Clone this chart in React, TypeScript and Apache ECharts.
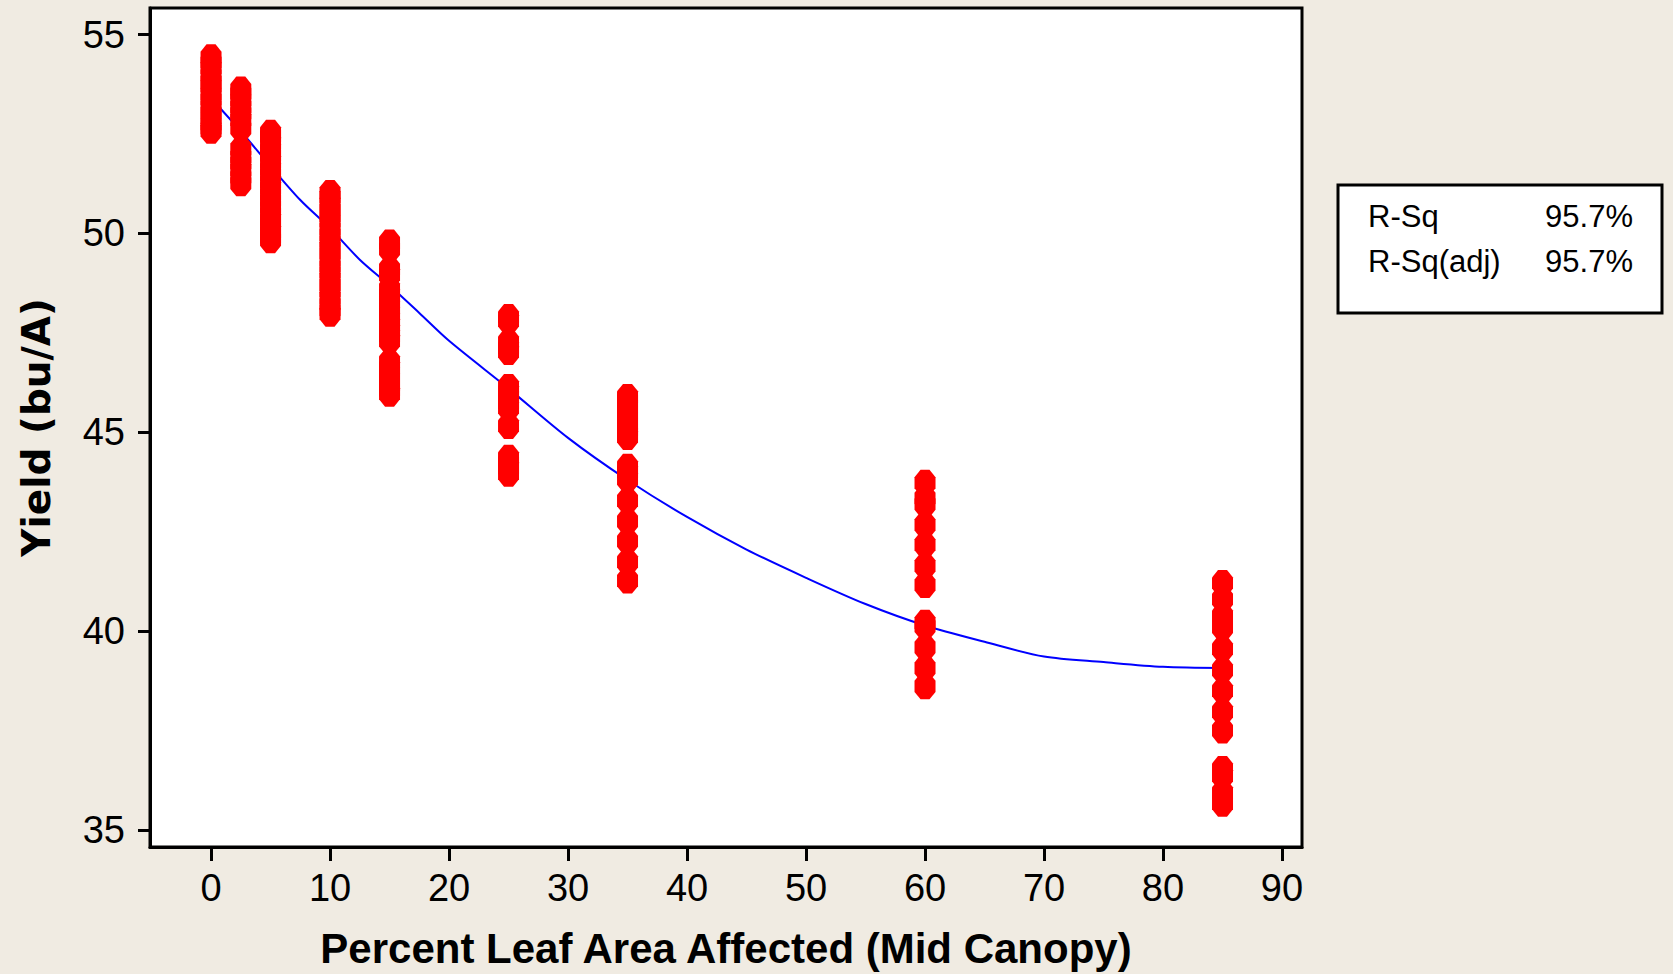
import React, { useEffect, useRef } from "react";
import * as echarts from "echarts";

// Treatment levels (percent leaf area affected)
const xLevels = [0, 2.5, 5, 10, 15, 25, 35, 60, 85];

// Yield observations read at each level
const yield0 = [54.43, 54.3, 54.16, 53.98, 53.82, 53.7, 53.51, 53.37, 53.2, 53.04, 52.9, 52.74, 52.64, 52.58];
const yield2_5 = [53.62, 53.52, 53.35, 53.18, 53.02, 52.86, 52.64, 52.12, 51.92, 51.77, 51.6, 51.41, 51.26];
const yield5 = [52.53, 52.44, 52.27, 52.1, 51.96, 51.8, 51.62, 51.48, 51.3, 51.15, 50.98, 50.83, 50.66, 50.5, 50.34, 50.2, 50.04, 49.9, 49.83];
const yield10 = [51.02, 50.92, 50.75, 50.6, 50.44, 50.3, 50.12, 49.97, 49.8, 49.64, 49.5, 49.33, 49.17, 49.02, 48.86, 48.7, 48.55, 48.38, 48.22, 48.07, 47.98];
const yield15 = [49.77, 49.6, 49.1, 48.96, 48.6, 48.45, 48.3, 48.15, 48.0, 47.85, 47.7, 47.55, 47.42, 47.3, 46.77, 46.62, 46.48, 46.33, 46.2, 46.05, 45.97];
const yield25 = [47.9, 47.8, 47.27, 47.12, 47.02, 46.14, 46.02, 45.88, 45.74, 45.61, 45.16, 44.36, 44.24, 44.1, 43.96];
const yield35 = [45.89, 45.8, 45.65, 45.5, 45.35, 45.2, 45.05, 44.95, 44.88, 44.13, 44.0, 43.82, 43.28, 42.76, 42.26, 41.74, 41.27];
const yield60 = [43.73, 43.34, 43.19, 42.67, 42.17, 41.64, 41.16, 40.21, 40.12, 39.59, 39.07, 38.61];
const yield85 = [41.21, 40.8, 40.38, 40.09, 39.55, 39.02, 38.5, 37.97, 37.5, 36.53, 36.36, 35.93, 35.66];

const yieldByLevel = [yield0, yield2_5, yield5, yield10, yield15, yield25, yield35, yield60, yield85];

// Fitted line
const fitX = [0, 2.5, 5, 7.5, 10, 12.5, 15, 17.5, 20, 25, 30, 35, 40, 45, 50, 55, 60, 65, 70, 75, 80, 85];
const fitY = [53.4, 52.57, 51.69, 50.84, 50.13, 49.34, 48.69, 48.0, 47.3, 46.1, 44.86, 43.8, 42.87, 42.05, 41.34, 40.68, 40.14, 39.73, 39.36, 39.22, 39.1, 39.07];

// Tick labels
const xTicks = [0, 10, 20, 30, 40, 50, 60, 70, 80, 90];
const yTicks = [35, 40, 45, 50, 55];

// Fit statistics
const statLabels = ["R-Sq", "R-Sq(adj)"];
const statValues = ["95.7%", "95.7%"];

const xTitle = "Percent Leaf Area Affected (Mid Canopy)";
const yTitle = "Yield (bu/A)";

// pixel-circle like marker
const markerPath = "path://M6,0L15,0L21,6L21,15L15,21L6,21L0,15L0,6Z";

export default function App() {
  const ref = useRef<HTMLDivElement>(null);

  useEffect(() => {
    if (!ref.current) return;
    const chart = echarts.init(ref.current, undefined, { renderer: "svg" });

    const scatterData: number[][] = [];
    xLevels.forEach((x, i) => {
      yieldByLevel[i].forEach((y) => scatterData.push([x, y]));
    });
    const fitData = fitX.map((x, i) => [x, fitY[i]]);

    const tickFont = { fontFamily: "Liberation Sans", fontSize: 38, color: "#000" };

    const graphics: any[] = [
      {
        type: "rect",
        shape: { x: 1338, y: 185, width: 324, height: 128 },
        style: { fill: "#fff", stroke: "#000", lineWidth: 3 },
        z: 10,
      },
    ];
    statLabels.forEach((t, i) => {
      graphics.push({
        type: "text",
        x: 1368,
        y: 216 + i * 45,
        z: 11,
        style: { text: t, fontFamily: "Liberation Sans", fontSize: 31, fill: "#000", align: "left", verticalAlign: "middle" },
      });
      graphics.push({
        type: "text",
        x: 1633,
        y: 216 + i * 45,
        z: 11,
        style: { text: statValues[i], fontFamily: "Liberation Sans", fontSize: 31, fill: "#000", align: "right", verticalAlign: "middle" },
      });
    });

    chart.setOption({
      animation: false,
      backgroundColor: "#F0EBE2",
      grid: {
        left: 150,
        top: 8,
        width: 1152,
        height: 839,
        show: true,
        backgroundColor: "#fff",
        borderColor: "#000",
        borderWidth: 3,
        containLabel: false,
        outerBoundsMode: "none",
      },
      xAxis: {
        type: "value",
        min: -5.13,
        max: 91.68,
        name: xTitle,
        nameLocation: "middle",
        nameGap: 80,
        nameTextStyle: { fontFamily: "Liberation Sans", fontWeight: "bold", fontSize: 42, color: "#000" },
        axisLine: { show: true, onZero: false, lineStyle: { color: "#000", width: 3 } },
        axisTick: { show: true, customValues: xTicks, length: 14, lineStyle: { color: "#000", width: 3 } },
        axisLabel: { customValues: xTicks, margin: 22, ...tickFont },
        splitLine: { show: false },
      },
      yAxis: {
        type: "value",
        min: 34.57,
        max: 55.67,
        name: yTitle,
        nameLocation: "middle",
        nameGap: 94,
        nameRotate: 90,
        nameTextStyle: { fontFamily: "DejaVu Sans", fontWeight: "bold", fontSize: 39, color: "#000" },
        axisLine: { show: true, onZero: false, lineStyle: { color: "#000", width: 3 } },
        axisTick: { show: true, customValues: yTicks, length: 12, lineStyle: { color: "#000", width: 3 } },
        axisLabel: { customValues: yTicks, margin: 25, ...tickFont },
        splitLine: { show: false },
      },
      series: [
        {
          type: "line",
          data: fitData,
          smooth: 0.3,
          showSymbol: false,
          lineStyle: { color: "#0000FF", width: 2 },
          z: 2,
        },
        {
          type: "scatter",
          data: scatterData,
          symbol: markerPath,
          symbolSize: [21, 26],
          itemStyle: { color: "#FF0000", opacity: 1 },
          z: 3,
        },
      ],
      graphic: graphics,
    });

    return () => chart.dispose();
  }, []);

  return (
    <div
      ref={ref}
      style={{ position: "fixed", left: 0, top: 0, width: 1673, height: 974 }}
    />
  );
}
